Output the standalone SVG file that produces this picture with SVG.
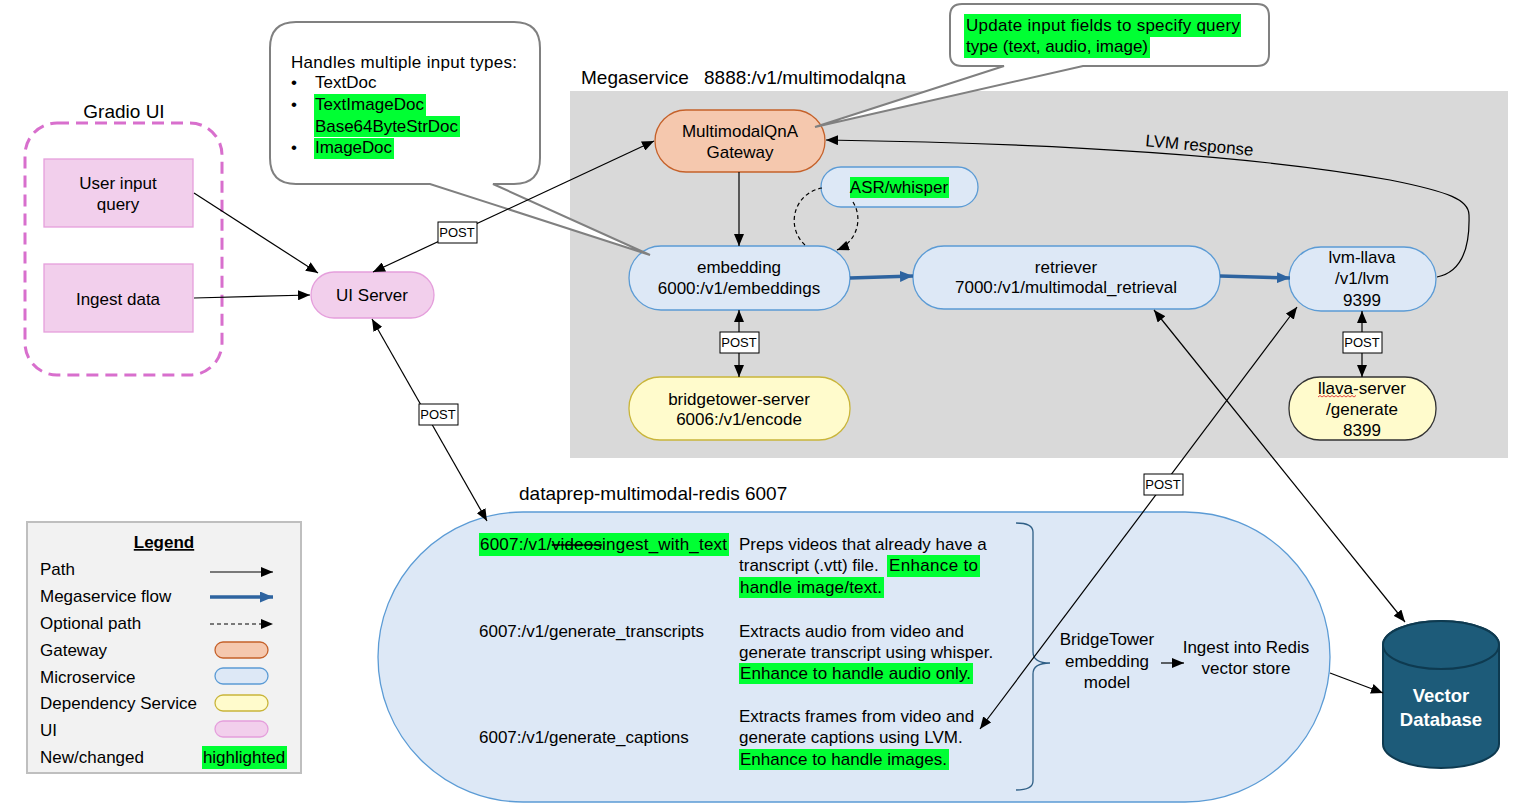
<svg xmlns="http://www.w3.org/2000/svg" width="1516" height="809" viewBox="0 0 1516 809">
<defs>
<style>
.t{font-family:"Liberation Sans",Arial,sans-serif;font-size:17px;fill:#000}
.c{text-anchor:middle}
.big{font-size:19px}
.hl{fill:#00ff33}
.ms{fill:#dde8f6;stroke:#5b9bd5;stroke-width:1.3}
.gw{fill:#f5c8ae;stroke:#c5612a;stroke-width:1.3}
.dep{fill:#fffbcc;stroke:#c9b53a;stroke-width:1.3}
.ui{fill:#f2cfec;stroke:#e59fdc;stroke-width:1.3}
.ln{stroke:#000;stroke-width:1.2;fill:none}
.dash{stroke:#000;stroke-width:1.2;fill:none;stroke-dasharray:4 3}
.blue{stroke:#2e64a0;stroke-width:3.5;fill:none}
.pbox{fill:#fff;stroke:#000;stroke-width:1}
.pt{font-family:"Liberation Sans",Arial,sans-serif;font-size:13px;fill:#000;text-anchor:middle}
.call{fill:#fff;stroke:#808080;stroke-width:2}
.db{font-size:18.5px;font-weight:bold;fill:#fff}
</style>
<marker id="ah" viewBox="0 0 12 10" refX="12" refY="5" markerWidth="12" markerHeight="10" markerUnits="userSpaceOnUse" orient="auto-start-reverse"><path d="M0,0 L12,5 L0,10 z" fill="#000"/></marker>
<marker id="ahb" viewBox="0 0 13 11" refX="13" refY="5.5" markerWidth="13" markerHeight="11" markerUnits="userSpaceOnUse" orient="auto"><path d="M0,0 L13,5.5 L0,11 z" fill="#2e64a0"/></marker>
</defs>
<rect width="1516" height="809" fill="#fff"/>

<g id="megaservice">
<rect x="570" y="91" width="938" height="367" fill="#d9d9d9"/>
<text class="t big" x="581" y="84">Megaservice<tspan x="704">8888:/v1/multimodalqna</tspan></text>
</g>

<g id="dataprep">
<rect x="378" y="512" width="952" height="290" rx="145" class="ms"/>
<text class="t big" x="519" y="500">dataprep-multimodal-redis 6007</text>
<rect class="hl" x="479" y="533" width="250" height="23"/>
<text class="t" x="480" y="550" textLength="247">6007:/v1/<tspan style="text-decoration:line-through">videos</tspan>ingest_with_text</text>
<text class="t" x="739" y="550">Preps videos that already have a</text>
<text class="t" x="739" y="571">transcript (.vtt) file.</text>
<rect class="hl" x="887" y="555" width="93" height="22"/>
<text class="t" x="889" y="571" textLength="89">Enhance to</text>
<rect class="hl" x="739" y="577" width="145" height="21"/>
<text class="t" x="740" y="593" textLength="142">handle image/text.</text>
<text class="t" x="479" y="637">6007:/v1/generate_transcripts</text>
<text class="t" x="739" y="637">Extracts audio from video and</text>
<text class="t" x="739" y="658">generate transcript using whisper.</text>
<rect class="hl" x="739" y="663" width="234" height="21"/>
<text class="t" x="740" y="679" textLength="231">Enhance to handle audio only.</text>
<text class="t" x="479" y="743">6007:/v1/generate_captions</text>
<text class="t" x="739" y="722">Extracts frames from video and</text>
<text class="t" x="739" y="743">generate captions using LVM.</text>
<rect class="hl" x="739" y="749" width="210" height="21"/>
<text class="t" x="740" y="765" textLength="207">Enhance to handle images.</text>
<path d="M1016,523 Q1033,523 1033,532 V652 Q1033,663 1050,663 Q1033,663 1033,674 V781 Q1033,790 1016,790" fill="none" stroke="#2f5f86" stroke-width="1.3"/>
<text class="t c" x="1107" y="645">BridgeTower</text>
<text class="t c" x="1107" y="667">embedding</text>
<text class="t c" x="1107" y="688">model</text>
<line class="ln" x1="1161" y1="663" x2="1184" y2="663" marker-end="url(#ah)"/>
<text class="t c" x="1246" y="653">Ingest into Redis</text>
<text class="t c" x="1246" y="674">vector store</text>
</g>

<g id="gradio-ui">
<rect x="25" y="123" width="197" height="252" rx="32" fill="none" stroke="#d86fcd" stroke-width="3" stroke-dasharray="12 7"/>
<text class="t c big" x="124" y="118">Gradio UI</text>
</g>
<g id="user-input">
<rect class="ui" x="44" y="159" width="149" height="68"/>
<text class="t c" x="118" y="189">User input</text>
<text class="t c" x="118" y="210">query</text>
</g>
<g id="ingest-data">
<rect class="ui" x="44" y="264" width="149" height="68"/>
<text class="t c" x="118" y="305">Ingest data</text>
</g>
<g id="ui-server">
<rect class="ui" x="311" y="272" width="123" height="46" rx="23"/>
<text class="t c" x="372" y="301">UI Server</text>
</g>

<g id="gateway">
<rect class="gw" x="655" y="110" width="170" height="62" rx="31"/>
<text class="t c" x="740" y="137">MultimodalQnA</text>
<text class="t c" x="740" y="158">Gateway</text>
</g>
<g id="asr">
<rect class="ms" x="821" y="167" width="157" height="40" rx="20"/>
<rect class="hl" x="850" y="177" width="99" height="21"/>
<text class="t c" x="899" y="193">ASR/whisper</text>
</g>
<g id="embedding">
<rect class="ms" x="629" y="246" width="221" height="64" rx="32"/>
<text class="t c" x="739" y="273">embedding</text>
<text class="t c" x="739" y="294">6000:/v1/embeddings</text>
</g>
<g id="retriever">
<rect class="ms" x="913" y="246" width="307" height="63" rx="31"/>
<text class="t c" x="1066" y="273">retriever</text>
<text class="t c" x="1066" y="293">7000:/v1/multimodal_retrieval</text>
</g>
<g id="lvm-llava">
<rect class="ms" x="1289" y="247" width="147" height="64" rx="32"/>
<text class="t c" x="1362" y="263">lvm-llava</text>
<text class="t c" x="1362" y="284">/v1/lvm</text>
<text class="t c" x="1362" y="306">9399</text>
</g>
<g id="bridgetower-server">
<rect class="dep" x="629" y="377" width="221" height="63" rx="31"/>
<text class="t c" x="739" y="405">bridgetower-server</text>
<text class="t c" x="739" y="425">6006:/v1/encode</text>
</g>
<g id="llava-server">
<rect x="1289" y="377" width="147" height="63" rx="31" fill="#fffbcc" stroke="#333" stroke-width="1.3"/>
<text class="t c" x="1362" y="394">llava-server</text>
<path d="M1318,397 l2,-1.5 l2,1.5 l2,-1.5 l2,1.5 l2,-1.5 l2,1.5 l2,-1.5 l2,1.5 l2,-1.5 l2,1.5 l2,-1.5 l2,1.5 l2,-1.5 l2,1.5 l2,-1.5 l2,1.5 l2,-1.5 l2,1.5 l2,-1.5" fill="none" stroke="#e03030" stroke-width="0.9"/>
<text class="t c" x="1362" y="415">/generate</text>
<text class="t c" x="1362" y="436">8399</text>
</g>
<g id="vector-db">
<path d="M1383,645 V744 A58,24 0 0 0 1499,744 V645 A58,24 0 0 0 1383,645 Z" fill="#1d5b79" stroke="#0e3a50" stroke-width="2"/>
<ellipse cx="1441" cy="645" rx="58" ry="24" fill="#1d5b79" stroke="#0e3a50" stroke-width="2"/>
<text class="t c db" x="1441" y="702">Vector</text>
<text class="t c db" x="1441" y="726">Database</text>
</g>

<g id="callout-input-types">
<path class="call" d="M296,22 H514 Q540,22 540,48 V158 Q540,184 514,184 H493 L650,255 L430,184 H296 Q270,184 270,158 V48 Q270,22 296,22 Z"/>
<text class="t" x="291" y="68" textLength="226">Handles multiple input types:</text>
<text class="t" x="291" y="88">•</text>
<text class="t" x="315" y="88">TextDoc</text>
<text class="t" x="291" y="110">•</text>
<rect class="hl" x="314" y="94" width="112" height="22"/>
<text class="t" x="315" y="110" textLength="109">TextImageDoc</text>
<rect class="hl" x="314" y="116" width="146" height="21"/>
<text class="t" x="315" y="132" textLength="143">Base64ByteStrDoc</text>
<text class="t" x="291" y="153">•</text>
<rect class="hl" x="314" y="138" width="80" height="21"/>
<text class="t" x="315" y="153" textLength="77">ImageDoc</text>
</g>
<g id="callout-query-type">
<path class="call" d="M962,4 H1257 Q1269,4 1269,16 V54 Q1269,66 1257,66 H1083 L815,127 L1004,66 H962 Q950,66 950,54 V16 Q950,4 962,4 Z"/>
<rect class="hl" x="964" y="14" width="277" height="23"/>
<text class="t" x="966" y="31" textLength="274">Update input fields to specify query</text>
<rect class="hl" x="964" y="37" width="186" height="21"/>
<text class="t" x="966" y="52" textLength="182">type (text, audio, image)</text>
</g>

<g id="connectors">
<line class="ln" x1="194" y1="193" x2="318" y2="273" marker-end="url(#ah)"/>
<line class="ln" x1="194" y1="298" x2="310" y2="295" marker-end="url(#ah)"/>
<line class="ln" x1="373" y1="272" x2="654" y2="141" marker-start="url(#ah)" marker-end="url(#ah)"/>
<line class="ln" x1="372" y1="319" x2="487" y2="521" marker-start="url(#ah)" marker-end="url(#ah)"/>
<line class="ln" x1="739" y1="172" x2="739" y2="246" marker-end="url(#ah)"/>
<path class="dash" d="M805,245 A33,33 0 0 1 822,188"/>
<path class="dash" d="M853,202 A33,33 0 0 1 837,250" marker-end="url(#ah)"/>
<line class="blue" x1="850" y1="278" x2="913" y2="276" marker-end="url(#ahb)"/>
<line class="blue" x1="1220" y1="276" x2="1290" y2="278" marker-end="url(#ahb)"/>
<line class="ln" x1="739" y1="310" x2="739" y2="377" marker-start="url(#ah)" marker-end="url(#ah)"/>
<line class="ln" x1="1362" y1="311" x2="1362" y2="377" marker-start="url(#ah)" marker-end="url(#ah)"/>
<path class="ln" d="M1437,277 C1462,272 1470,248 1469,215 C1469,200 1450,192 1390,180 C1280,160 1100,144 826,140" marker-end="url(#ah)"/>
<text class="t c" x="1199" y="151" transform="rotate(5 1199 151)">LVM response</text>
<line class="ln" x1="1154" y1="310" x2="1405" y2="622" marker-start="url(#ah)" marker-end="url(#ah)"/>
<line class="ln" x1="1297" y1="307" x2="980" y2="729" marker-start="url(#ah)" marker-end="url(#ah)"/>
<line class="ln" x1="1330" y1="673" x2="1383" y2="693" marker-end="url(#ah)"/>
<rect class="pbox" x="438" y="222" width="39" height="21"/>
<text class="pt" x="457" y="237">POST</text>
<rect class="pbox" x="419" y="404" width="39" height="21"/>
<text class="pt" x="438" y="419">POST</text>
<rect class="pbox" x="720" y="332" width="39" height="21"/>
<text class="pt" x="739" y="347">POST</text>
<rect class="pbox" x="1343" y="332" width="39" height="21"/>
<text class="pt" x="1362" y="347">POST</text>
<rect class="pbox" x="1144" y="474" width="39" height="21"/>
<text class="pt" x="1163" y="489">POST</text>
</g>

<g id="legend">
<rect x="27" y="522" width="274" height="251" fill="#f2f2f2" stroke="#bfbfbf" stroke-width="2"/>
<text class="t c" x="164" y="548" font-weight="bold" text-decoration="underline">Legend</text>
<text class="t" x="40" y="575">Path</text>
<line class="ln" x1="210" y1="572" x2="273" y2="572" marker-end="url(#ah)"/>
<text class="t" x="40" y="602">Megaservice flow</text>
<line class="blue" x1="210" y1="597" x2="273" y2="597" marker-end="url(#ahb)"/>
<text class="t" x="40" y="629">Optional path</text>
<line class="dash" x1="210" y1="624" x2="273" y2="624" marker-end="url(#ah)"/>
<text class="t" x="40" y="656">Gateway</text>
<rect class="gw" x="215" y="642" width="53" height="16" rx="8"/>
<text class="t" x="40" y="683">Microservice</text>
<rect class="ms" x="215" y="668" width="53" height="16" rx="8"/>
<text class="t" x="40" y="709">Dependency Service</text>
<rect class="dep" x="215" y="695" width="53" height="16" rx="8"/>
<text class="t" x="40" y="736">UI</text>
<rect class="ui" x="215" y="721" width="53" height="16" rx="8"/>
<text class="t" x="40" y="763">New/changed</text>
<rect class="hl" x="202" y="746" width="85" height="23"/>
<text class="t c" x="244" y="763">highlighted</text>
</g>
</svg>
